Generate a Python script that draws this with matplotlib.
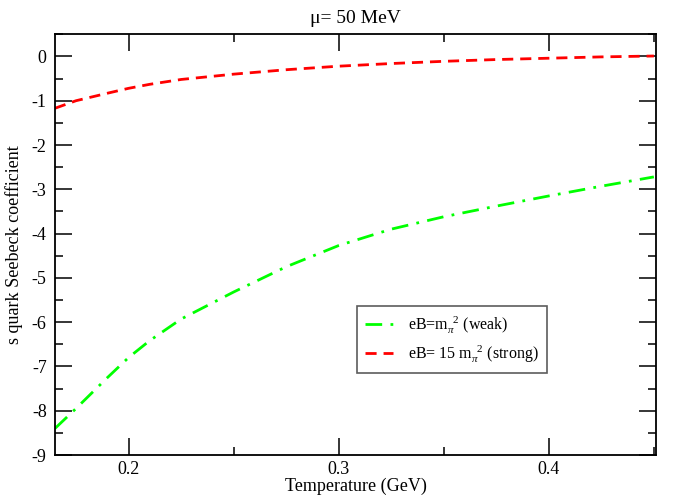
import matplotlib
matplotlib.use("Agg")
import matplotlib.pyplot as plt
from matplotlib.ticker import MultipleLocator, NullFormatter

plt.rcParams['font.family'] = ['Liberation Serif', 'DejaVu Serif']
plt.rcParams['mathtext.fontset'] = 'custom'
plt.rcParams['mathtext.rm'] = 'Liberation Serif'
plt.rcParams['mathtext.it'] = 'Liberation Serif:italic'
plt.rcParams['axes.unicode_minus'] = False

# temperature in GeV
temp = [0.165, 0.175, 0.19, 0.20, 0.21, 0.225, 0.25, 0.275, 0.30, 0.325, 0.35, 0.375, 0.40, 0.425, 0.45]
# s quark Seebeck coefficient, weak field eB = m_pi^2
weak = [-8.40, -7.95, -7.25, -6.80, -6.42, -5.93, -5.32, -4.75, -4.27, -3.90, -3.62, -3.38, -3.15, -2.93, -2.72]
# strong field eB = 15 m_pi^2
strong = [-1.17, -1.00, -0.83, -0.72, -0.63, -0.52, -0.40, -0.30, -0.22, -0.16, -0.11, -0.07, -0.04, -0.01, 0.01]

fig = plt.figure(figsize=(6.73, 4.95), dpi=100)
ax = fig.add_axes([0.0817, 0.0808, 0.8930, 0.8499])

ax.plot(temp, weak, color='#00ff00', lw=2, linestyle=(0, (6, 3, 1, 3)),
        label=r'eB=m$_\pi^{\ \ 2}$ (weak)')
ax.plot(temp, strong, color='#ff0000', lw=2, linestyle=(0, (4, 2.5)),
        label=r'eB= 15 m$_\pi^{\ \ 2}$ (strong)')

ax.set_xlim(0.165, 0.451)
ax.set_ylim(-9, 0.5)
ax.xaxis.set_major_locator(MultipleLocator(0.1))
ax.xaxis.set_minor_locator(MultipleLocator(0.05))
ax.yaxis.set_major_locator(MultipleLocator(1))
ax.yaxis.set_minor_locator(MultipleLocator(0.5))
ax.tick_params(which='both', direction='in', top=True, right=True, labelsize=13, width=1.1)
ax.tick_params(which='major', length=12)
ax.tick_params(axis='x', which='major', pad=4)
ax.tick_params(axis='y', which='major', pad=6)
ax.tick_params(which='minor', length=6)
ax.xaxis.set_minor_formatter(NullFormatter())
for s in ax.spines.values():
    s.set_linewidth(1.3)

ax.set_xlabel('Temperature (GeV)', fontsize=13, labelpad=0)
ax.set_ylabel('s quark Seebeck coefficient', fontsize=13, labelpad=6)
ax.set_title('μ= 50 MeV', fontsize=14, pad=8)

leg = ax.legend(loc='lower left', bbox_to_anchor=(0.502, 0.195), fontsize=11.5,
                frameon=True, fancybox=False, edgecolor='#333333',
                handlelength=1.8, handletextpad=0.9, borderpad=0.5,
                labelspacing=0.5, borderaxespad=0)
leg.get_frame().set_linewidth(1.2)

fig.savefig('out.png', dpi=100)
